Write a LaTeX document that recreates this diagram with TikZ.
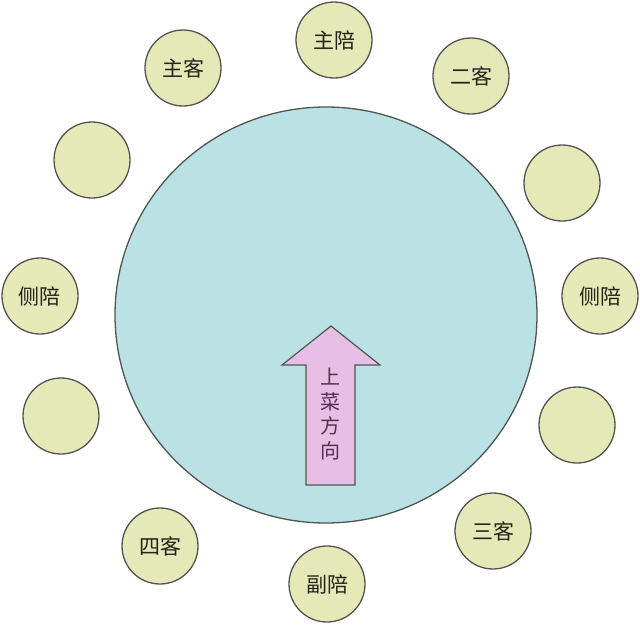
\documentclass[tikz,border=0pt]{standalone}
\usepackage{fontspec}
\newfontfamily\cjk{Noto Sans CJK SC}
\usetikzlibrary{shapes.geometric}
\definecolor{seatfill}{RGB}{229,233,184}
\definecolor{tablefill}{RGB}{186,226,228}
\definecolor{arrowfill}{RGB}{230,190,230}
\definecolor{edgecol}{RGB}{80,85,80}
\definecolor{txtcol}{RGB}{35,35,25}
\definecolor{arrtxt}{RGB}{80,50,80}
\begin{document}
\begin{tikzpicture}[x=1pt,y=-1pt,
  seat/.style={circle,draw=edgecol,line width=1.3pt,fill=seatfill,minimum size=76pt,inner sep=0pt,
    font=\cjk\fontsize{21}{21}\selectfont,text=txtcol},
  tablestyle/.style={ellipse,draw=edgecol,line width=1.3pt,fill=tablefill,minimum width=422pt,minimum height=416pt,inner sep=0pt},
  arrowstyle/.style={draw=edgecol,line width=1.2pt,fill=arrowfill,line join=miter}]
\useasboundingbox (0,0) rectangle (640,624);
\fill[white] (0,0) rectangle (640,624);
\node[tablestyle] (table) at (326,315) {};
\draw[arrowstyle] (306,485) -- (306,365) -- (282,365) -- (331,326) -- (380,365) -- (355,365) -- (355,485) -- cycle;
\node[font=\cjk\fontsize{20}{24.5}\selectfont,text=arrtxt,align=center,inner sep=0pt] (dir) at (330,414) {上\\菜\\方\\向};
\node[seat] (s1) at (334,40) {主陪};
\node[seat] (s2) at (471,76) {二客};
\node[seat] (s3) at (562,183) {};
\node[seat] (s4) at (600,296) {侧陪};
\node[seat] (s5) at (577,425) {};
\node[seat] (s6) at (493,531) {三客};
\node[seat] (s7) at (327,584) {副陪};
\node[seat] (s8) at (160,546) {四客};
\node[seat] (s9) at (61,416) {};
\node[seat] (s10) at (40,296) {侧陪};
\node[seat] (s11) at (92,160) {};
\node[seat] (s12) at (183,68) {主客};
\end{tikzpicture}
\end{document}
